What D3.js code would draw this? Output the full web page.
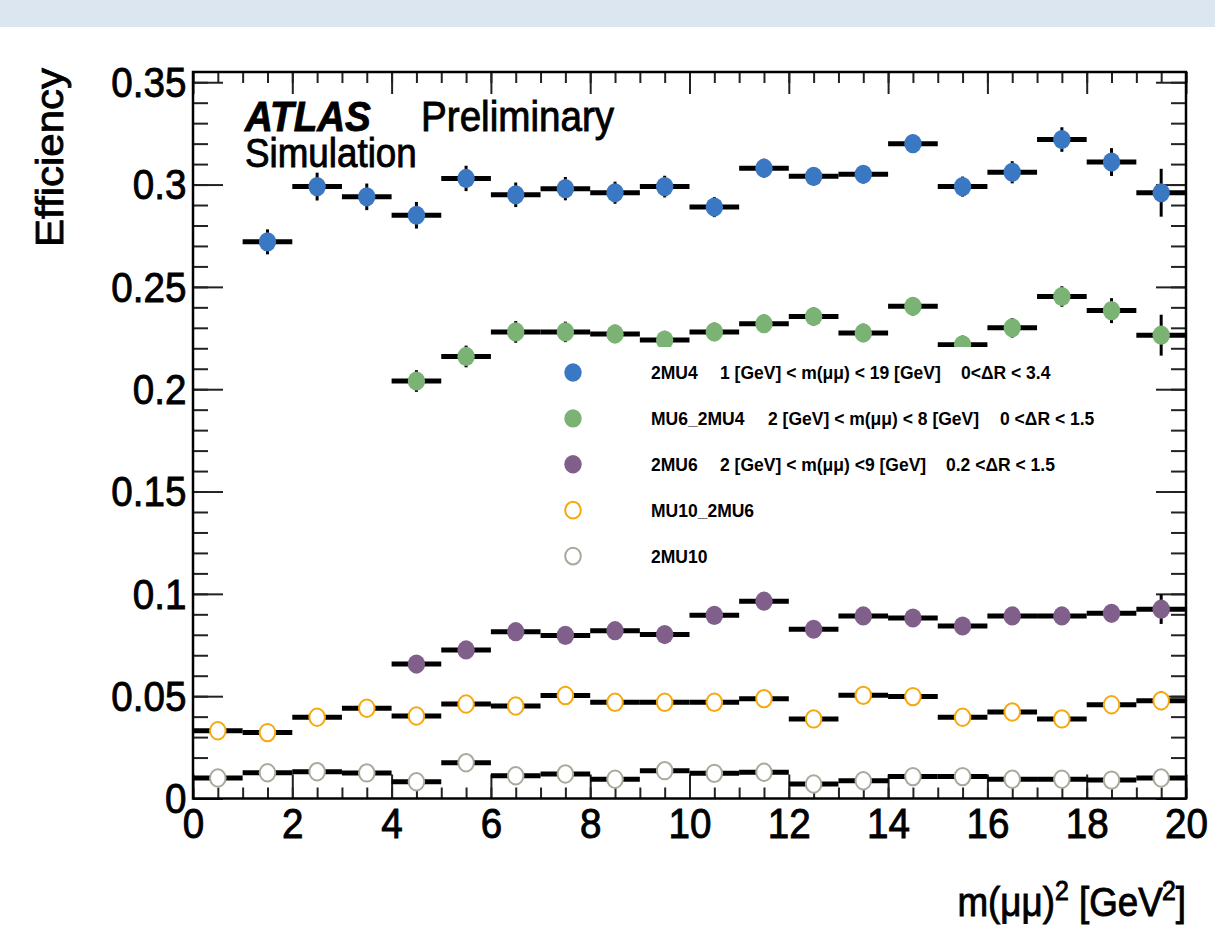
<html>
<head>
<script src="https://d3js.org/d3.v7.min.js"></script>
<style>
  body { margin: 0; background: white; }
  text { font-family: "Liberation Sans", Arial, Helvetica, sans-serif; }
  .heavy { stroke: #000; stroke-width: 0.9px; }
</style>
</head>
<body>
<script>
// bin centres of m(mumu)^2 [GeV^2]
var binCenters = [0.5, 1.5, 2.5, 3.5, 4.5, 5.5, 6.5, 7.5, 8.5, 9.5, 10.5, 11.5, 12.5, 13.5, 14.5, 15.5, 16.5, 17.5, 18.5, 19.5];
var binWidth = 1;

var eff2MU4 = [null, 0.272, 0.299, 0.294, 0.285, 0.303, 0.295, 0.298, 0.296, 0.299, 0.289, 0.308, 0.304, 0.305, 0.320, 0.299, 0.306, 0.322, 0.311, 0.296];
var err2MU4 = [null, 0.0061, 0.0068, 0.0065, 0.0065, 0.0062, 0.006, 0.0057, 0.0054, 0.0053, 0.0049, 0.0046, 0.0044, 0.0044, 0.0044, 0.0049, 0.0054, 0.006, 0.0068, 0.0117];

var effMU6_2MU4 = [null, null, null, null, 0.204, 0.216, 0.228, 0.228, 0.227, 0.224, 0.228, 0.232, 0.2355, 0.2275, 0.2405, 0.2217, 0.230, 0.2453, 0.2384, 0.2264];
var errMU6_2MU4 = [null, null, null, null, 0.0053, 0.0053, 0.0053, 0.005, 0.0045, 0.0045, 0.0045, 0.0045, 0.0045, 0.0045, 0.0045, 0.0045, 0.0048, 0.005, 0.0061, 0.010];

var eff2MU6 = [null, null, null, null, 0.0657, 0.0726, 0.0815, 0.0797, 0.0820, 0.0801, 0.0895, 0.0964, 0.0827, 0.0892, 0.0882, 0.0843, 0.0892, 0.0892, 0.0905, 0.0925];
var err2MU6 = [null, null, null, null, 0.003, 0.003, 0.003, 0.003, 0.003, 0.003, 0.003, 0.003, 0.003, 0.003, 0.003, 0.003, 0.003, 0.003, 0.0035, 0.0072];

var effMU10_2MU6 = [0.0331, 0.0322, 0.0397, 0.0441, 0.0403, 0.0462, 0.0452, 0.0503, 0.0470, 0.0470, 0.0470, 0.0488, 0.0389, 0.0504, 0.0498, 0.0397, 0.0423, 0.0389, 0.0458, 0.0478];
var errMU10_2MU6 = [0.002, 0.002, 0.002, 0.002, 0.002, 0.002, 0.002, 0.002, 0.002, 0.002, 0.002, 0.002, 0.002, 0.002, 0.002, 0.002, 0.002, 0.002, 0.0025, 0.0046];

var eff2MU10 = [0.0100, 0.0126, 0.0131, 0.0125, 0.0082, 0.0175, 0.0111, 0.0120, 0.0094, 0.0136, 0.0123, 0.0128, 0.0071, 0.0087, 0.0107, 0.0107, 0.0094, 0.0094, 0.0090, 0.0100];
var err2MU10 = [0.0015, 0.0015, 0.0015, 0.0015, 0.0015, 0.0015, 0.0015, 0.0015, 0.0015, 0.0015, 0.0015, 0.0015, 0.0015, 0.0015, 0.0015, 0.0015, 0.0015, 0.0015, 0.0015, 0.002];

var seriesNames = ["2MU4", "MU6_2MU4", "2MU6", "MU10_2MU6", "2MU10"];
var seriesColors = ["#3a78c3", "#7ab374", "#80608b", "#f5a90f", "#aaa99c"];
var seriesOpen = [false, false, false, true, true];
var seriesValues = [eff2MU4, effMU6_2MU4, eff2MU6, effMU10_2MU6, eff2MU10];
var seriesErrors = [err2MU4, errMU6_2MU4, err2MU6, errMU10_2MU6, err2MU10];
var legendCuts = [
  ["1 [GeV] < m(\u03bc\u03bc) < 19 [GeV]", "0<\u0394R < 3.4"],
  ["2 [GeV] < m(\u03bc\u03bc) < 8 [GeV]", "0 <\u0394R < 1.5"],
  ["2 [GeV] < m(\u03bc\u03bc) <9 [GeV]", "0.2 <\u0394R < 1.5"],
  null, null
];

var xMajorTicks = d3.range(0, 20.01, 2);
var xMinorTicks = d3.range(0, 20.01, 0.5);
var yMajorTicks = [0, 0.05, 0.1, 0.15, 0.2, 0.25, 0.3, 0.35];
var yMinorTicks = d3.range(0, 0.3551, 0.01);

var svgWidth = 1215, svgHeight = 928;
var frameLeft = 193, frameRight = 1186, frameTop = 72, frameBottom = 798.5;
var squeeze = 0.92; // the picture is slightly narrowed

var svg = d3.select("body").append("svg")
  .attr("width", svgWidth)
  .attr("height", svgHeight);

svg.append("rect")
  .attr("x", 0).attr("y", 0)
  .attr("width", svgWidth).attr("height", 27)
  .style("fill", "#dce6f1");

var x = d3.scaleLinear().domain([0, 20]).range([frameLeft, frameRight]);
var y = d3.scaleLinear().domain([0, 0.355]).range([frameBottom, frameTop]);

var yFormat = function(d) { return d === 0 ? "0" : String(+d.toFixed(2)); };

// axes: left / bottom with labels, right / top without
var axisG = svg.append("g");
axisG.append("g").attr("transform", "translate(" + frameLeft + ",0)")
  .call(d3.axisLeft(y).tickValues(yMinorTicks).tickSize(-15).tickSizeOuter(0).tickFormat(""));
axisG.append("g").attr("class", "ylab").attr("transform", "translate(" + frameLeft + ",0)")
  .call(d3.axisLeft(y).tickValues(yMajorTicks).tickSize(-30).tickSizeOuter(0).tickPadding(7).tickFormat(yFormat));
axisG.append("g").attr("transform", "translate(" + frameRight + ",0)")
  .call(d3.axisRight(y).tickValues(yMinorTicks).tickSize(-15).tickSizeOuter(0).tickFormat(""));
axisG.append("g").attr("transform", "translate(" + frameRight + ",0)")
  .call(d3.axisRight(y).tickValues(yMajorTicks).tickSize(-30).tickSizeOuter(0).tickFormat(""));
axisG.append("g").attr("transform", "translate(0," + frameBottom + ")")
  .call(d3.axisBottom(x).tickValues(xMinorTicks).tickSize(-11).tickSizeOuter(0).tickFormat(""));
axisG.append("g").attr("class", "xlab").attr("transform", "translate(0," + frameBottom + ")")
  .call(d3.axisBottom(x).tickValues(xMajorTicks).tickSize(-24).tickSizeOuter(0).tickPadding(10).tickFormat(d3.format("d")));
axisG.append("g").attr("transform", "translate(0," + frameTop + ")")
  .call(d3.axisTop(x).tickValues(xMinorTicks).tickSize(-11).tickSizeOuter(0).tickFormat(""));
axisG.append("g").attr("transform", "translate(0," + frameTop + ")")
  .call(d3.axisTop(x).tickValues(xMajorTicks).tickSize(-22).tickSizeOuter(0).tickFormat(""));

axisG.selectAll(".domain").remove();
axisG.selectAll(".tick line").attr("stroke", "#222").attr("stroke-width", 2);
axisG.selectAll(".ylab text, .xlab text")
  .attr("class", "heavy")
  .style("font-size", "42px")
  .attr("fill", "#000")
  .attr("transform", "scale(" + squeeze + ",1)");
axisG.selectAll(".ylab text").attr("dy", "0.34em");

svg.append("rect")
  .attr("x", frameLeft).attr("y", frameTop)
  .attr("width", frameRight - frameLeft).attr("height", frameBottom - frameTop)
  .style("fill", "none").style("stroke", "#000").style("stroke-width", 2.5);

// data points
var dataG = svg.append("g");
seriesValues.forEach(function(vals, s) {
  var pts = binCenters.map(function(c, i) { return { x: c, v: vals[i], e: seriesErrors[s][i] }; })
    .filter(function(p) { return p.v !== null; });
  var g = dataG.append("g");
  g.selectAll("line.h").data(pts).enter().append("line")
    .attr("x1", function(p) { return x(p.x - binWidth / 2); })
    .attr("x2", function(p) { return x(p.x + binWidth / 2); })
    .attr("y1", function(p) { return y(p.v); })
    .attr("y2", function(p) { return y(p.v); })
    .style("stroke", "#000").style("stroke-width", 5);
  g.selectAll("line.v").data(pts).enter().append("line")
    .attr("x1", function(p) { return x(p.x); })
    .attr("x2", function(p) { return x(p.x); })
    .attr("y1", function(p) { return y(p.v - p.e); })
    .attr("y2", function(p) { return y(p.v + p.e); })
    .style("stroke", "#000").style("stroke-width", 3);
  g.selectAll("ellipse").data(pts).enter().append("ellipse")
    .attr("cx", function(p) { return x(p.x); })
    .attr("cy", function(p) { return y(p.v); })
    .attr("rx", seriesOpen[s] ? 7.8 : 8.7)
    .attr("ry", seriesOpen[s] ? 8.7 : 9.6)
    .style("fill", seriesOpen[s] ? "white" : seriesColors[s])
    .style("stroke", seriesOpen[s] ? seriesColors[s] : "none")
    .style("stroke-width", 2);
});

// legend (white box covers what is behind it)
var legend = svg.append("g");
legend.append("rect")
  .attr("x", 545).attr("y", 347)
  .attr("width", 590).attr("height", 232)
  .style("fill", "white");
seriesNames.forEach(function(name, i) {
  var ly = 372.5 + i * 45.9;
  legend.append("ellipse")
    .attr("cx", 573).attr("cy", ly)
    .attr("rx", seriesOpen[i] ? 7.8 : 8.7)
    .attr("ry", seriesOpen[i] ? 8.4 : 9.2)
    .style("fill", seriesOpen[i] ? "white" : seriesColors[i])
    .style("stroke", seriesOpen[i] ? seriesColors[i] : "none")
    .style("stroke-width", 2);
  var parts = [[651, name]];
  if (legendCuts[i]) {
    var cutX = [[720, 961], [768, 1000], [720, 946]][i];
    parts.push([cutX[0], legendCuts[i][0]]);
    parts.push([cutX[1], legendCuts[i][1]]);
  }
  parts.forEach(function(p) {
    legend.append("text")
      .attr("x", p[0]).attr("y", ly + 6.5)
      .style("font-size", "17.5px").style("font-weight", "bold")
      .text(p[1]);
  });
});

// labels
svg.append("text")
  .attr("class", "heavy")
  .attr("transform", "translate(245,131) scale(" + squeeze + ",1)")
  .style("font-size", "42px").style("font-weight", "bold").style("font-style", "italic")
  .text("ATLAS");
svg.append("text")
  .attr("class", "heavy")
  .attr("transform", "translate(421,131) scale(" + squeeze + ",1)")
  .style("font-size", "42px")
  .text("Preliminary");
svg.append("text")
  .attr("class", "heavy")
  .attr("transform", "translate(245,167) scale(" + squeeze + ",1)")
  .style("font-size", "40px")
  .text("Simulation");

svg.append("text")
  .attr("class", "heavy")
  .attr("transform", "translate(63,68) rotate(-90) scale(1," + squeeze + ")")
  .attr("text-anchor", "end")
  .style("font-size", "42px")
  .text("Efficiency");

var xTitle = svg.append("text")
  .attr("class", "heavy")
  .attr("transform", "translate(1186,916) scale(" + squeeze + ",1)")
  .attr("text-anchor", "end")
  .style("font-size", "40px");
xTitle.append("tspan").text("m(\u03bc\u03bc)");
xTitle.append("tspan").attr("dy", -16).style("font-size", "27px").text("2");
xTitle.append("tspan").attr("dy", 16).text(" [GeV");
xTitle.append("tspan").attr("dy", -16).attr("dx", -1).style("font-size", "27px").text("2");
xTitle.append("tspan").attr("dy", 16).text("]");
</script>
</body>
</html>
